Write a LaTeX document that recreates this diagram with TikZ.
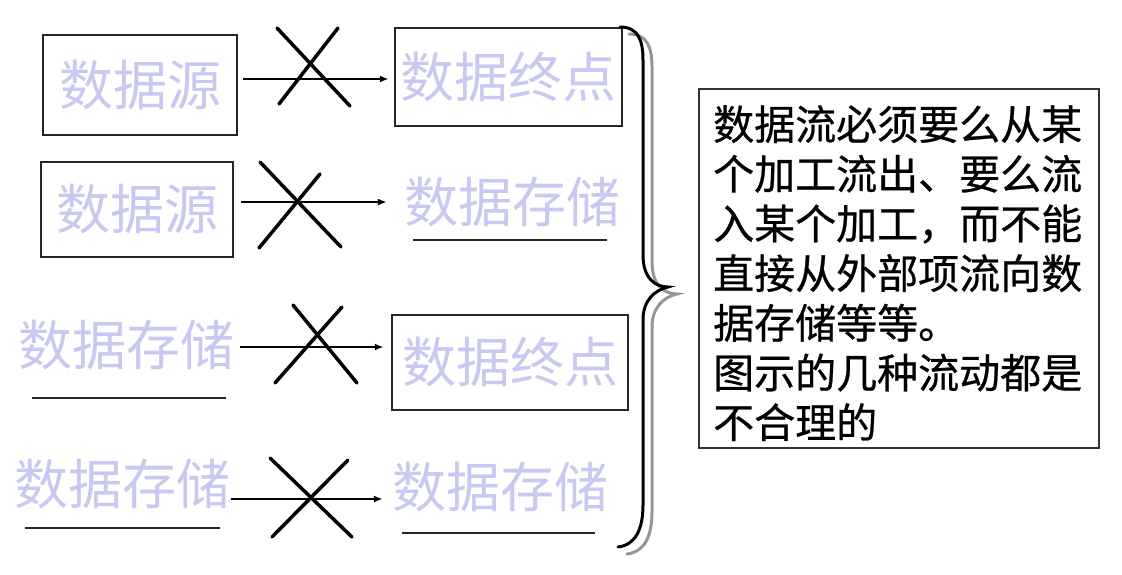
\documentclass[tikz,border=0pt]{standalone}
\usepackage{fontspec}
\setmainfont{Noto Sans CJK SC}
\newfontfamily\notefont[FakeBold=0.6]{Noto Sans CJK SC}
\usetikzlibrary{arrows.meta}
\definecolor{labelcol}{RGB}{200,200,240}
\definecolor{shadowcol}{RGB}{150,150,150}
\tikzset{
  lbl/.style={font=\fontsize{54}{60}\selectfont, text=labelcol, inner sep=0pt},
  boxnode/.style={lbl, draw=black!85, line width=2.5pt},
  storenode/.style={lbl},
  storeline/.style={line width=2.5pt, draw=black!85},
  flow/.style={line width=2pt, -{Latex[length=9pt,width=7pt]}},
  cross/.style={line width=3.5pt, line cap=round},
  brace/.style={line width=3pt, line cap=round},
}
\begin{document}
\begin{tikzpicture}[x=1pt,y=-1pt]
\useasboundingbox[fill=white] (0,0) rectangle (1122,574);

% row 1
\node[boxnode, minimum width=194pt, minimum height=100pt] (b1) at (140,85) {数据源};
\node[boxnode, minimum width=227pt, minimum height=98pt] (b3) at (508.5,77) {数据终点};
\draw[flow] ([xshift=5pt]b1.east |- 0,79) -- ([xshift=-5pt]b3.west |- 0,79);
\draw[cross] (277,28) -- (350,106);
\draw[cross] (338,28) -- (279,104);

% row 2
\node[boxnode, minimum width=192pt, minimum height=95pt] (b2) at (137,209.5) {数据源};
\node[storenode, minimum height=76pt] (s2) at (512,202) {数据存储};
\draw[storeline] ([xshift=-99pt]s2.south) -- ([xshift=95pt]s2.south);
\draw[flow] ([xshift=7pt]b2.east |- 0,202) -- ([xshift=-17pt]s2.west |- 0,202);
\draw[cross] (260,162) -- (341,247);
\draw[cross] (320,174) -- (259,248);

% row 3
\node[storenode, minimum height=106pt] (s3) at (126,345) {数据存储};
\draw[storeline] ([xshift=-94pt]s3.south) -- ([xshift=100pt]s3.south);
\node[boxnode, minimum width=236pt, minimum height=95pt] (b4) at (510,362.5) {数据终点};
\draw[flow] ([xshift=6pt]s3.east |- 0,347) -- ([xshift=-7pt]b4.west |- 0,347);
\draw[cross] (293,305) -- (357,383);
\draw[cross] (342,307) -- (275,383);

% row 4
\node[storenode, minimum height=88pt] (s4) at (122.5,484) {数据存储};
\draw[storeline] ([xshift=-97.5pt]s4.south) -- ([xshift=97.5pt]s4.south);
\node[storenode, minimum height=92pt] (s5) at (500,487) {数据存储};
\draw[storeline] ([xshift=-98pt]s5.south) -- ([xshift=95pt]s5.south);
\draw[flow] ([xshift=0pt]s4.east |- 0,499) -- ([xshift=-9pt]s5.west |- 0,499);
\draw[cross] (270,458) -- (352,537);
\draw[cross] (348,460) -- (272,537);

% brace (shadow then black)
\begin{scope}[shift={(9,7)}]
\draw[brace, shadowcol] (620,27) .. controls (638,27) and (643,40) .. (643,60) -- (643,255)
  .. controls (643,278) and (655,287) .. (668,287)
  .. controls (655,290) and (643,300) .. (643,320) -- (643,505)
  .. controls (643,530) and (635,545) .. (618,547);
\end{scope}
\draw[brace] (620,27) .. controls (638,27) and (643,40) .. (643,60) -- (643,255)
  .. controls (643,278) and (655,287) .. (668,287)
  .. controls (655,290) and (643,300) .. (643,320) -- (643,505)
  .. controls (643,530) and (635,545) .. (618,547);

% note box
\node[draw=black!80, line width=2pt, minimum width=400pt, minimum height=359pt, inner sep=0pt] (note) at (899,268.5) {};
\node[anchor=north west, inner sep=0pt, align=left, font=\notefont\fontsize{41}{49.7}\selectfont] (notetext) at (713,105) {数据流必须要么从某\\个加工流出、要么流\\入某个加工，而不能\\直接从外部项流向数\\据存储等等。\\图示的几种流动都是\\不合理的};
\end{tikzpicture}
\end{document}
